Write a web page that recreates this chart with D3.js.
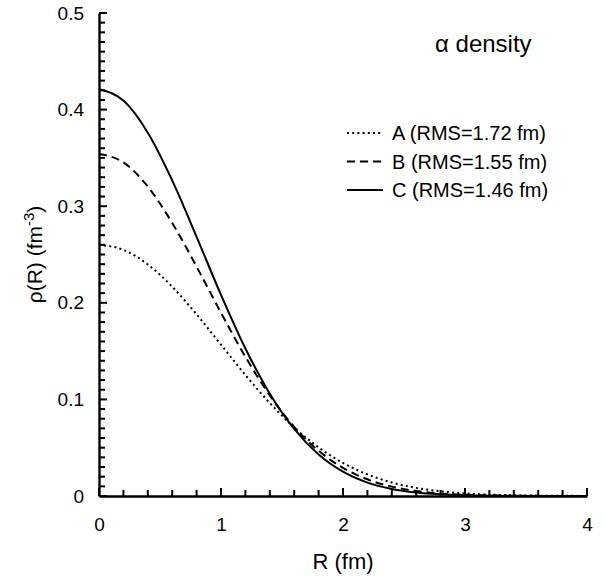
<!DOCTYPE html>
<html>
<head>
<meta charset="utf-8">
<script src="https://cdn.jsdelivr.net/npm/d3@7"></script>
<style>
  body { margin: 0; background: #fff; }
  text { font-family: "Liberation Sans", Arial, sans-serif; fill: #000; }
</style>
</head>
<body>
<div id="chart"></div>
<script>
// Données
const radius = [0, 0.2, 0.4, 0.6, 0.8, 1.0, 1.2, 1.4, 1.6, 1.8, 2.0, 2.2, 2.4, 2.6, 2.8, 3.0, 3.2, 3.4, 3.6, 3.8, 4.0];
const densityA = [0.260, 0.2548, 0.2397, 0.2166, 0.1880, 0.1566, 0.1253, 0.0963, 0.0710, 0.0503, 0.0342, 0.0224, 0.0140, 0.0084, 0.0049, 0.0027, 0.0014, 0.0007, 0.0004, 0.0002, 0.0001];
const densityB = [0.354, 0.3453, 0.3203, 0.2827, 0.2374, 0.1896, 0.1441, 0.1041, 0.0716, 0.0468, 0.0291, 0.0173, 0.0097, 0.0052, 0.0026, 0.0013, 0.0006, 0.0003, 0.0001, 0, 0];
const densityC = [0.421, 0.4093, 0.3761, 0.3267, 0.2683, 0.2082, 0.1527, 0.1059, 0.0694, 0.0430, 0.0252, 0.0139, 0.0073, 0.0036, 0.0017, 0.0007, 0.0003, 0.0001, 0, 0, 0];
const seriesNames = ["A (RMS=1.72 fm)", "B (RMS=1.55 fm)", "C (RMS=1.46 fm)"];
const xTicks = [0, 1, 2, 3, 4];
const yTicks = [0, 0.1, 0.2, 0.3, 0.4, 0.5];

// Dimensions
const width = 605;
const height = 578;
const marginLeft = 99;
const marginRight = 18;
const marginTop = 13;
const marginBottom = 82;

const x = d3.scaleLinear([0, 4], [marginLeft, width - marginRight]);
const y = d3.scaleLinear([0, 0.5], [height - marginBottom, marginTop]);

const series = [
  {name: seriesNames[0], values: densityA, dash: "2,3.2"},
  {name: seriesNames[1], values: densityB, dash: "8,5"},
  {name: seriesNames[2], values: densityC, dash: null}
];

const svg = d3.create("svg")
    .attr("viewBox", [0, 0, width, height])
    .attr("width", width)
    .attr("height", height);

// Courbes
const line = d3.line()
    .curve(d3.curveMonotoneX)
    .x((d, i) => x(radius[i]))
    .y(d => y(d));

svg.append("g")
    .attr("fill", "none")
    .attr("stroke", "#000")
    .attr("stroke-width", 2)
    .selectAll("path")
    .data(series)
    .join("path")
      .attr("stroke-dasharray", d => d.dash)
      .attr("d", d => line(d.values));

// Axes : étiquettes et ligne de base
svg.append("g")
    .attr("transform", `translate(0,${y(0)})`)
    .call(d3.axisBottom(x).tickValues(xTicks).tickSize(0).tickPadding(22).tickFormat(d3.format("d")))
    .call(g => g.select(".domain").attr("stroke", "#000").attr("stroke-width", 2.4))
    .call(g => g.selectAll("text").attr("font-size", 19));

svg.append("g")
    .attr("transform", `translate(${x(0)},0)`)
    .call(d3.axisLeft(y).tickValues(yTicks).tickSize(0).tickPadding(15).tickFormat(d => d === 0 ? "0" : d3.format(".1f")(d)))
    .call(g => g.select(".domain").attr("stroke", "#000").attr("stroke-width", 2.4))
    .call(g => g.selectAll("text").attr("font-size", 19));

// Graduations vers l'intérieur (mineures et majeures)
const minorX = d3.range(0, 21).map(i => i / 5);
const minorY = d3.range(0, 51).map(i => i / 100);
const isMajor = v => Math.abs(v * 10 - Math.round(v * 10)) < 1e-6;

svg.append("g")
    .attr("fill", "#000")
    .selectAll("rect")
    .data(minorX)
    .join("rect")
      .attr("x", d => x(d) - 1)
      .attr("y", d => y(0) - (Number.isInteger(d) ? 8 : 6))
      .attr("width", 2)
      .attr("height", d => Number.isInteger(d) ? 8 : 6);

svg.append("g")
    .attr("fill", "#000")
    .selectAll("rect")
    .data(minorY)
    .join("rect")
      .attr("x", x(0))
      .attr("y", d => y(d) - 1)
      .attr("width", d => isMajor(d) ? 8 : 6)
      .attr("height", 2);

// Titres des axes
svg.append("text")
    .attr("x", x(2))
    .attr("y", 569)
    .attr("text-anchor", "middle")
    .attr("font-size", 22)
    .text("R (fm)");

const yLabel = svg.append("text")
    .attr("transform", `translate(42,${(y(0) + y(0.5)) / 2}) rotate(-90)`)
    .attr("text-anchor", "middle")
    .attr("font-size", 21);
yLabel.append("tspan").text("\u03c1(R) (fm");
yLabel.append("tspan").attr("dy", -8).attr("font-size", 15).text("-3");
yLabel.append("tspan").attr("dy", 8).text(")");

// Légende
svg.append("text")
    .attr("x", 435)
    .attr("y", 52)
    .attr("font-size", 24)
    .text("\u03b1 density");

const legend = svg.append("g")
    .selectAll("g")
    .data(series)
    .join("g")
      .attr("transform", (d, i) => `translate(347,${133 + i * 28.5})`);

legend.append("line")
    .attr("x1", 0)
    .attr("x2", 36)
    .attr("stroke", "#000")
    .attr("stroke-width", 2)
    .attr("stroke-dasharray", d => d.dash);

legend.append("text")
    .attr("x", 45)
    .attr("dy", "0.36em")
    .attr("font-size", 20)
    .text(d => d.name);

document.getElementById("chart").appendChild(svg.node());
</script>
</body>
</html>
